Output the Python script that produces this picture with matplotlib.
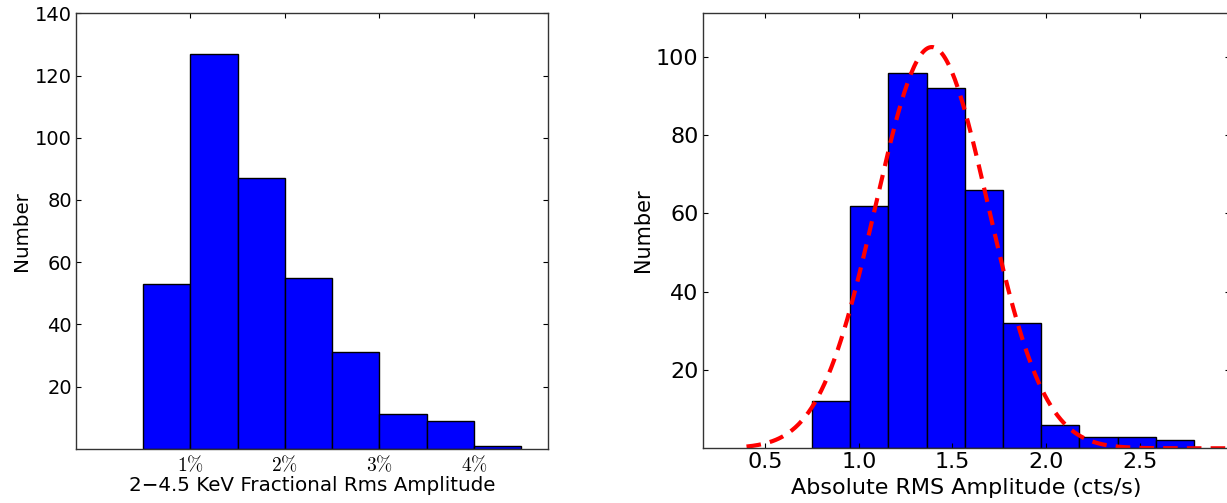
import matplotlib
matplotlib.use('Agg')
import numpy as np
import matplotlib.pyplot as plt

plt.rcParams['mathtext.fontset'] = 'cm'

# left panel: fractional rms histogram (percent)
frac_edges = [0.5, 1.0, 1.5, 2.0, 2.5, 3.0, 3.5, 4.0, 4.5]
frac_counts = [53, 127, 87, 55, 31, 11, 9, 1]
frac_ticks = [1, 2, 3, 4]

# right panel: absolute rms histogram (cts/s)
abs_edges = [0.75, 0.954, 1.158, 1.362, 1.566, 1.77, 1.974, 2.178, 2.382, 2.586, 2.79]
abs_counts = [12, 62, 96, 92, 66, 32, 6, 3, 3, 2]
abs_ticks = [0.5, 1.0, 1.5, 2.0, 2.5]

# gaussian fit parameters
fit_amp = 102.5
fit_mu = 1.39
fit_sigma = 0.30
fit_range = (0.40, 3.0)

W, H = 1227, 503
fig = plt.figure(figsize=(W/100., H/100.), dpi=100)

def style(ax, fs):
    ax.tick_params(direction='in', length=3.5, width=0.8, top=True, right=True,
                   labelsize=fs, colors='black', pad=3)
    for s in ax.spines.values():
        s.set_linewidth(1.0)
        s.set_color('#333333')

#########################
ax1 = fig.add_axes([76./W, 1-448.7/H, (547.7-76)/W, (448.7-13.3)/H])
ax1.bar(frac_edges[:-1], frac_counts, width=np.diff(frac_edges), align='edge',
        color='#0000ff', edgecolor='black', linewidth=1.0)
ax1.set_xlim(-0.21, 4.78)
ax1.set_ylim(0, 140)
ax1.set_yticks([20, 40, 60, 80, 100, 120, 140])
ax1.set_xticks(frac_ticks)
ax1.set_xticklabels([r'$\mathrm{%d\%%}$' % t for t in frac_ticks])
style(ax1, 14)
for lab in ax1.get_xticklabels():
    lab.set_fontsize(14)
ax1.tick_params(axis='x', pad=4)
ax1.set_xlabel('2\u22124.5 KeV Fractional Rms Amplitude', fontsize=14.3, labelpad=1)
ax1.set_ylabel('Number', fontsize=14.3, labelpad=3)

#########################
ax2 = fig.add_axes([702.7/W, 1-448.3/H, (1229.5-702.7)/W, (448.3-13)/H])
ax2.bar(abs_edges[:-1], abs_counts, width=np.diff(abs_edges), align='edge',
        color='#0000ff', edgecolor='black', linewidth=1.0)
xf = np.linspace(fit_range[0], fit_range[1], 300)
ax2.plot(xf, fit_amp*np.exp(-0.5*((xf-fit_mu)/fit_sigma)**2), 'r--', lw=3,
         dashes=(3.5, 2.2))
ax2.set_xlim(0.166, 2.98)
ax2.set_ylim(0, 111.2)
ax2.set_yticks([20, 40, 60, 80, 100])
ax2.set_xticks(abs_ticks)
style(ax2, 16)
ax2.set_xlabel('Absolute RMS Amplitude (cts/s)', fontsize=16, labelpad=4)
ax2.set_ylabel('Number', fontsize=15, labelpad=2)

fig.savefig('out.png', dpi=100)
